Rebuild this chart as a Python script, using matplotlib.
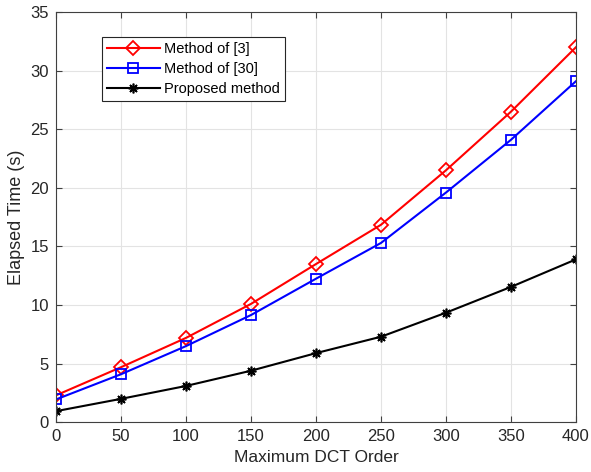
import matplotlib
matplotlib.use("Agg")
import matplotlib.pyplot as plt

plt.rcParams['font.family'] = ['Liberation Sans', 'DejaVu Sans']

orders = [0, 50, 100, 150, 200, 250, 300, 350, 400]
method3 = [2.3, 4.7, 7.2, 10.1, 13.5, 16.85, 21.5, 26.5, 32.0]
method30 = [1.95, 4.1, 6.5, 9.15, 12.25, 15.3, 19.6, 24.1, 29.1]
proposed = [0.95, 2.0, 3.1, 4.4, 5.9, 7.3, 9.35, 11.55, 13.9]
labels = ['Method of [3]', 'Method of [30]', 'Proposed method']

fig = plt.figure(figsize=(5.91, 4.72), dpi=100)
ax = fig.add_axes([56/591, (472-422.3)/472, (576-56)/591, (422.3-12)/472])

ax.plot(orders, method3, color='red', lw=1.5, marker='D', ms=7.5, mfc='none', mec='red', mew=1.3, label=labels[0])
ax.plot(orders, method30, color='blue', lw=1.5, marker='s', ms=6.5, mfc='none', mec='blue', mew=1.3, label=labels[1])
ax.plot(orders, proposed, color='black', lw=1.5, marker=(8, 2, 0), ms=7, mec='black', mew=1.2, label=labels[2])

ax.set_xlim(0, 400)
ax.set_ylim(0, 35)
ax.set_xticks(range(0, 401, 50))
ax.set_yticks(range(0, 36, 5))
ax.grid(True, color='#e3e3e3', lw=0.8)
ax.set_axisbelow(True)
for s in ax.spines.values():
    s.set_color('#404040')
    s.set_linewidth(0.8)
ax.tick_params(direction='in', length=4, colors='#404040', labelcolor='#262626', labelsize=12, top=True, right=True, pad=5)
ax.set_xlabel('Maximum DCT Order', fontsize=12.5, color='#262626')
ax.set_ylabel('Elapsed Time (s)', fontsize=13, color='#262626')

leg = ax.legend(loc='upper left', bbox_to_anchor=((102-56)/520, (422.3-37)/410.3), fontsize=10.5,
                fancybox=False, edgecolor='#262626', framealpha=1, borderpad=0.35,
                handlelength=3.6, labelspacing=0.42, handletextpad=0.3, borderaxespad=0)
leg.get_frame().set_linewidth(0.8)

fig.savefig('out.png', dpi=100)
